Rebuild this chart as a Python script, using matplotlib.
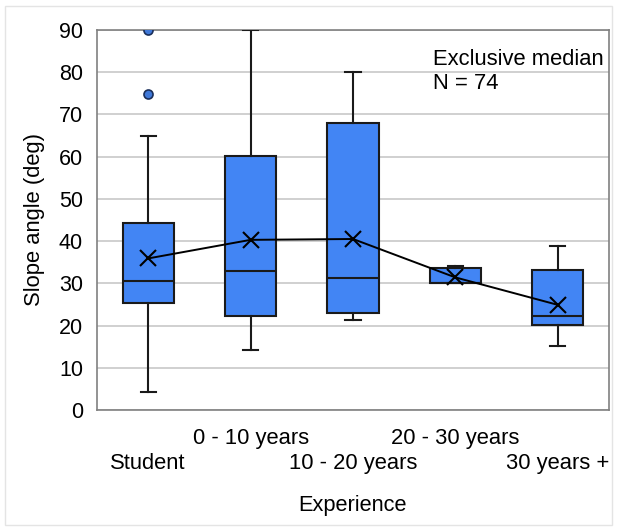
import matplotlib
matplotlib.use('Agg')
import matplotlib.pyplot as plt
from matplotlib.transforms import ScaledTranslation
from matplotlib.patches import Rectangle

plt.rcParams['font.family'] = ['Liberation Sans', 'DejaVu Sans']

# Datos
categories = ['Student', '0 - 10 years', '10 - 20 years', '20 - 30 years', '30 years +']
q1 = [25.4, 22.3, 22.9, 30.1, 20.2]
med = [30.6, 32.9, 31.2, 30.1, 22.3]
q3 = [44.2, 60.2, 68.0, 33.6, 33.1]
whislo = [4.3, 14.3, 21.2, 30.1, 15.2]
whishi = [65.0, 90.0, 80.0, 34.1, 38.8]
means = [35.9, 40.3, 40.5, 31.4, 24.9]
fliers = [[90.0, 74.8], [], [], [], []]

blue = '#4285f4'
edge = '#1a1a1a'

fig = plt.figure(figsize=(6.17, 5.27), dpi=100)
ax = fig.add_axes([97 / 617, 117 / 527, 512 / 617, 380 / 527])

# Borda clara em volta da figura
fig.patches.append(Rectangle((5 / 617, 2 / 527), 607 / 617, 519 / 527,
                             transform=fig.transFigure, fill=False,
                             edgecolor='#e4e4e4', linewidth=1.0))

stats = []
for i in range(len(categories)):
    stats.append({'q1': q1[i], 'med': med[i], 'q3': q3[i],
                  'whislo': whislo[i], 'whishi': whishi[i],
                  'fliers': fliers[i], 'label': categories[i]})

positions = list(range(1, len(categories) + 1))
ax.bxp(stats, positions=positions, widths=0.5, capwidths=0.15,
       patch_artist=True, showfliers=True,
       boxprops=dict(facecolor=blue, edgecolor=edge, linewidth=1.5),
       medianprops=dict(color=edge, linewidth=1.5),
       whiskerprops=dict(color=edge, linewidth=1.5),
       capprops=dict(color=edge, linewidth=1.5),
       flierprops=dict(marker='o', markerfacecolor='#3f78d8', markeredgecolor='#1a2f5a',
                       markersize=6.5, markeredgewidth=1.2),
       zorder=3)

# Linha das medias
ax.plot(positions, means, color='black', linewidth=1.4, marker='x',
        markersize=12, markeredgewidth=1.5, zorder=5)

ax.set_xlim(0.5, 5.5)
ax.set_ylim(0, 90)
ax.set_yticks(range(0, 91, 10))
ax.yaxis.grid(True, color='#c8c8c8', linewidth=1.2, zorder=0)
ax.set_axisbelow(True)
for s in ax.spines.values():
    s.set_color('#808080')
    s.set_linewidth(1.2)

ax.tick_params(axis='both', length=0, colors='#000000')
ax.tick_params(axis='y', pad=10, labelsize=15.5)
ax.set_xticks(positions)
ax.set_xticklabels(categories)
ax.tick_params(axis='x', pad=13, labelsize=15.8)
# Rótulos alternados em duas linhas
for lbl in ax.get_xticklabels()[0::2]:
    lbl.set_transform(lbl.get_transform() + ScaledTranslation(0, -25 / 100, fig.dpi_scale_trans))

ax.set_xlabel('Experience', fontsize=15.7, labelpad=15)
ax.set_ylabel('Slope angle (deg)', fontsize=15.8, labelpad=10)

ax.text(3.78, 85.6, 'Exclusive median\nN = 74', fontsize=15.8, va='top', ha='left',
        linespacing=1.2)

fig.savefig('out.png', dpi=100)
